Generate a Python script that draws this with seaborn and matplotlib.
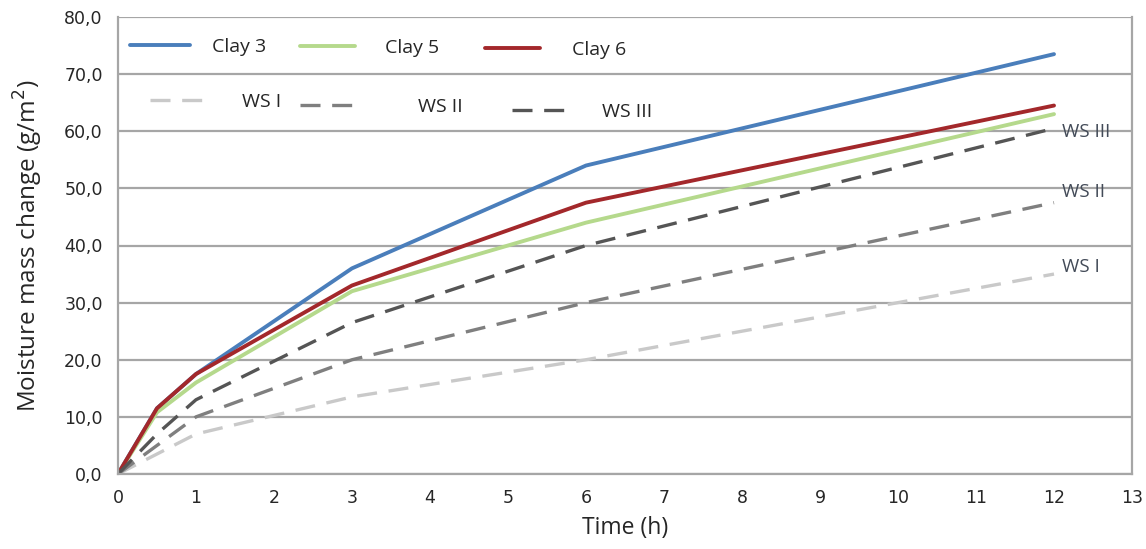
import numpy as np
import pandas as pd
import matplotlib
matplotlib.use("Agg")
import matplotlib.pyplot as plt
from matplotlib.ticker import FuncFormatter
import seaborn as sns

# data
time_h = [0, 0.5, 1, 3, 6, 12]
clay3 = [0, 11.5, 17.5, 36.0, 54.0, 73.5]
clay5 = [0, 10.8, 16.0, 32.0, 44.0, 63.0]
clay6 = [0, 11.5, 17.5, 33.0, 47.5, 64.5]
ws1 = [0, 3.5, 7.0, 13.5, 20.0, 35.0]
ws2 = [0, 5.0, 10.0, 20.0, 30.0, 47.5]
ws3 = [0, 7.0, 13.0, 26.5, 40.0, 60.5]

sns.set_style("white")
plt.rcParams['font.family'] = ['DejaVu Sans']

W, H = 1146, 549
fig = plt.figure(figsize=(W / 100, H / 100), dpi=100)
# plot area in pixels: x 118..1132, y 17..474
ax = fig.add_axes([118 / W, (H - 474) / H, 1014 / W, 457 / H])


def fx(px):
    return (px - 118) / 1014


def fy(py):
    return (474 - py) / 457


solid = [("Clay 3", clay3, "#4a7ebb"),
         ("Clay 5", clay5, "#b5d98c"),
         ("Clay 6", clay6, "#a3282b")]
dashed = [("WS I", ws1, "#c9c9c9"),
          ("WS II", ws2, "#7f7f7f"),
          ("WS III", ws3, "#555555")]

handles = {}
for name, vals, col in solid:
    df = pd.DataFrame({"t": time_h, "v": vals})
    sns.lineplot(data=df, x="t", y="v", ax=ax, color=col, linewidth=2.8)
    handles[name] = ax.lines[-1]

for name, vals, col in dashed:
    df = pd.DataFrame({"t": time_h, "v": vals})
    sns.lineplot(data=df, x="t", y="v", ax=ax, color=col, linewidth=2.4)
    ln = ax.lines[-1]
    ln.set_dashes([6, 3.5])
    handles[name] = ln

# right-hand labels for the dashed series (small vertical nudge as in the original)
label_nudge = {"WS I": 1.2, "WS II": 1.9, "WS III": -0.6}
for name, vals, col in dashed:
    ax.text(12.1, vals[-1] + label_nudge[name], name, color="#434b58",
            fontsize=13.5, va="center", ha="left", family="Open Sans")

ax.set_xlim(0, 13)
ax.set_ylim(0, 80)
ax.set_xticks(range(0, 14))
ax.set_yticks(range(0, 81, 10))
ax.yaxis.set_major_formatter(FuncFormatter(lambda v, p: f"{v:.1f}".replace(".", ",")))
ax.grid(axis="y", color="#a6a6a6", linewidth=1.6)
ax.set_axisbelow(True)
for s in ["left", "bottom", "right"]:
    ax.spines[s].set_color("#a6a6a6")
    ax.spines[s].set_linewidth(1.6)
ax.spines["top"].set_visible(False)
ax.tick_params(axis="both", length=5, width=1.3, color="#a6a6a6",
               labelsize=12.5, direction="out", pad=6)

ax.set_xlabel("Time (h)", fontsize=16.5, family="Open Sans", labelpad=6)
ax.set_ylabel("Moisture mass change (g/m$^2$)", fontsize=17.5,
              family="Open Sans", labelpad=14)

# legend entries: (name, handle start px, line end px, text start px, row y px)
legend_layout = [("Clay 3", 130, 190, 212, 47),
                 ("Clay 5", 300, 355, 385, 48),
                 ("Clay 6", 485, 540, 572, 50),
                 ("WS I", 150, 205, 242, 102),
                 ("WS II", 300, 355, 418, 107),
                 ("WS III", 512, 565, 602, 112)]
fs = 14
pt_px = fs * 100 / 72
for name, x0, x1, xt, y in legend_layout:
    lg = ax.legend([handles[name]], [name], loc="center left",
                   bbox_to_anchor=(fx(x0), fy(y)), frameon=False,
                   borderpad=0, borderaxespad=0,
                   handlelength=(x1 - x0) / pt_px,
                   handletextpad=(xt - x1) / pt_px,
                   prop={"family": "Open Sans", "size": fs})
    ax.add_artist(lg)
ax.legend_ = None  # avoid drawing the last legend twice

fig.savefig("out.png", dpi=100)
